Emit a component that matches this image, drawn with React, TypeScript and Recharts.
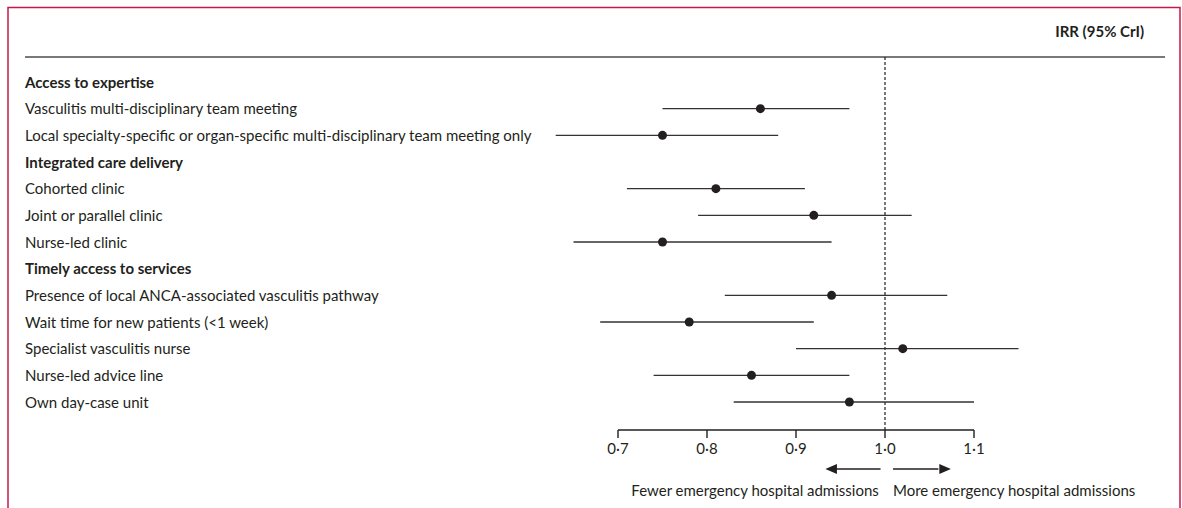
import React from "react";
import {
  ScatterChart, Scatter, XAxis, YAxis, ErrorBar, ReferenceLine,
} from "recharts";

const rowLabels = [
  "Access to expertise",
  "Vasculitis multi-disciplinary team meeting",
  "Local specialty-specific or organ-specific multi-disciplinary team meeting only",
  "Integrated care delivery",
  "Cohorted clinic",
  "Joint or parallel clinic",
  "Nurse-led clinic",
  "Timely access to services",
  "Presence of local ANCA-associated vasculitis pathway",
  "Wait time for new patients (<1 week)",
  "Specialist vasculitis nurse",
  "Nurse-led advice line",
  "Own day-case unit",
];
const headingRows = [0, 3, 7];

const irr = [null, 0.86, 0.75, null, 0.81, 0.92, 0.75, null, 0.94, 0.78, 1.02, 0.85, 0.96];
const lower = [null, 0.75, 0.63, null, 0.71, 0.79, 0.65, null, 0.82, 0.68, 0.9, 0.74, 0.83];
const upper = [null, 0.96, 0.88, null, 0.91, 1.03, 0.94, null, 1.07, 0.92, 1.15, 0.96, 1.1];

const xTicks = [0.7, 0.8, 0.9, 1.0, 1.1];
const rowTicks = rowLabels.map((_, i) => i);

const W = 1182;
const H = 508;
const X_DOMAIN: [number, number] = [0.6, 1.25];
const Y_DOMAIN: [number, number] = [-1.5, 13.05];
const LEFT_W = 529;
const RIGHT_W = 74.5;
const TOP = 42;
const X_AXIS_H = 78;

const INK = "#231f20";
const FONT = "Lato, 'Open Sans', sans-serif";
const FS = 15;

const dec = (v: number, d: number) => v.toFixed(d).replace(".", "·");
const ciText = (i: number) =>
  irr[i] == null ? "" : `${dec(irr[i] as number, 2)} (${dec(lower[i] as number, 2)}–${dec(upper[i] as number, 2)})`;

const data = irr
  .map((v, i) => (v == null ? null : {
    x: v,
    y: i,
    err: [v - (lower[i] as number), (upper[i] as number) - v],
  }))
  .filter(Boolean) as { x: number; y: number; err: number[] }[];

// pixel helper for the overlay (same mapping as the chart's x scale)
const plotW = W - LEFT_W - RIGHT_W;
const px = (v: number) => LEFT_W + ((v - X_DOMAIN[0]) / (X_DOMAIN[1] - X_DOMAIN[0])) * plotW;

function LeftTick({ y, payload }: { y?: number; payload?: { value: number } }) {
  const i = payload?.value ?? 0;
  const bold = headingRows.includes(i);
  return (
    <text x={25} y={y} dy={5.5} textAnchor="start" fontFamily={FONT} fontSize={FS}
      fontWeight={bold ? 700 : 400} fill={INK}>
      {rowLabels[i]}
    </text>
  );
}

function RightTick({ y, payload }: { y?: number; payload?: { value: number } }) {
  const i = payload?.value ?? 0;
  return (
    <text x={1166} y={y} dy={5.5} textAnchor="end" fontFamily={FONT} fontSize={FS} fill={INK}>
      {ciText(i)}
    </text>
  );
}

function XTick({ x, y, payload }: { x?: number; y?: number; payload?: { value: number } }) {
  return (
    <text x={x} y={y} dy={13.5} textAnchor="middle" fontFamily={FONT} fontSize={FS} fill={INK}>
      {dec(payload?.value ?? 0, 1)}
    </text>
  );
}

function Dot({ cx, cy }: { cx?: number; cy?: number }) {
  return <circle cx={cx} cy={cy} r={4.5} fill={INK} />;
}

export default function App() {
  const arrowY = 469;
  return (
    <div style={{ position: "fixed", left: 0, top: 0, width: W, height: H, background: "#fff" }}>
      <svg width={W} height={H} style={{ position: "absolute", left: 0, top: 0 }}>
        <polyline points={`8,${H} 8,7.5 1180,7.5 1180,${H}`} fill="none" stroke="#c8174b" strokeWidth={1.5} />
        <text x={1144} y={37} textAnchor="end" fontFamily={FONT} fontSize={FS} fontWeight={700} fill={INK}>
          IRR (95% CrI)
        </text>
        <line x1={25} x2={1165} y1={57} y2={57} stroke="#4d4d4d" strokeWidth={1.6} />
        <line x1={px(0.995)} x2={px(0.944)} y1={arrowY} y2={arrowY} stroke={INK} strokeWidth={1.5} />
        <polygon points={`${px(0.933)},${arrowY} ${px(0.946)},${arrowY - 5} ${px(0.946)},${arrowY + 5}`} fill={INK} />
        <line x1={px(1.009)} x2={px(1.06)} y1={arrowY} y2={arrowY} stroke={INK} strokeWidth={1.5} />
        <polygon points={`${px(1.074)},${arrowY} ${px(1.061)},${arrowY - 5} ${px(1.061)},${arrowY + 5}`} fill={INK} />
        <text x={px(0.993)} y={496} textAnchor="end" fontFamily={FONT} fontSize={FS} fill={INK}>
          Fewer emergency hospital admissions
        </text>
        <text x={px(1.009)} y={496} textAnchor="start" fontFamily={FONT} fontSize={FS} fill={INK}>
          More emergency hospital admissions
        </text>
      </svg>
      <div style={{ position: "absolute", left: 0, top: 0 }}>
        <ScatterChart width={W} height={H} margin={{ top: TOP, right: 0, bottom: 0, left: 0 }}>
          <XAxis
            type="number"
            dataKey="x"
            domain={X_DOMAIN}
            ticks={xTicks}
            interval={0}
            axisLine={false}
            tickLine={{ stroke: INK, strokeWidth: 1.4 }}
            tickSize={8}
            tickMargin={2}
            height={X_AXIS_H}
            tick={<XTick />}
          />
          <YAxis
            yAxisId="left"
            type="number"
            dataKey="y"
            domain={Y_DOMAIN}
            reversed
            ticks={rowTicks}
            interval={0}
            width={LEFT_W}
            axisLine={false}
            tickLine={false}
            tick={<LeftTick />}
          />
          <YAxis
            yAxisId="right"
            orientation="right"
            type="number"
            domain={Y_DOMAIN}
            reversed
            ticks={rowTicks}
            interval={0}
            width={RIGHT_W}
            axisLine={false}
            tickLine={false}
            tick={<RightTick />}
          />
          <ReferenceLine
            yAxisId="left"
            segment={[{ x: 1, y: -0.94 }, { x: 1, y: 13.05 }]}
            stroke={INK}
            strokeWidth={1.2}
            strokeDasharray="3 2"
          />
          <ReferenceLine
            yAxisId="left"
            segment={[{ x: 0.7, y: 13.05 }, { x: 1.1, y: 13.05 }]}
            stroke={INK}
            strokeWidth={1.4}
          />
          <Scatter yAxisId="left" data={data} shape={<Dot />} isAnimationActive={false}>
            <ErrorBar dataKey="err" direction="x" width={0} stroke="#333" strokeWidth={1.4} isAnimationActive={false} />
          </Scatter>
        </ScatterChart>
      </div>
    </div>
  );
}
